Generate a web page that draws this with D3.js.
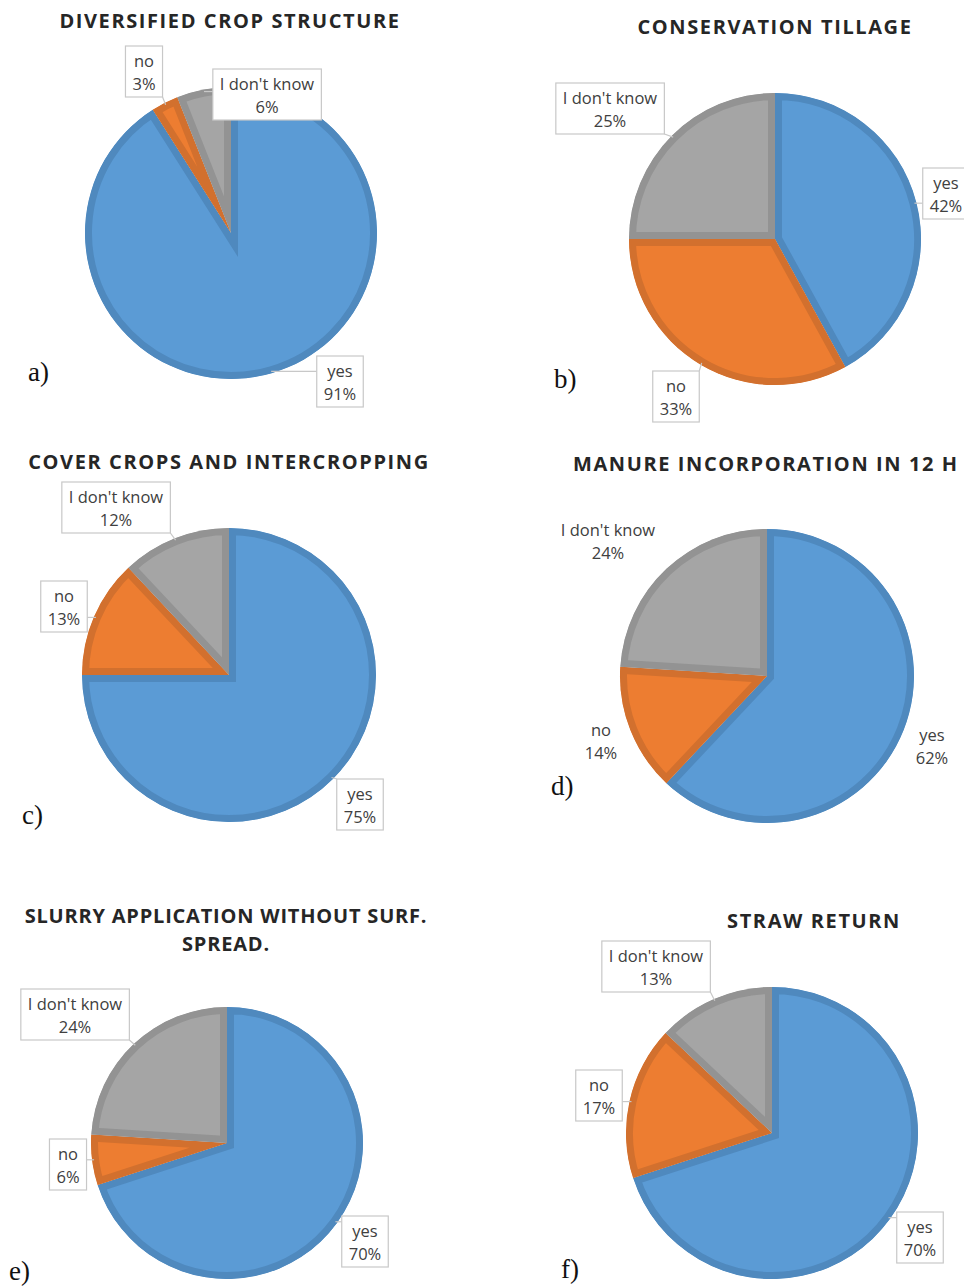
<!DOCTYPE html>
<html>
<head>
<meta charset="utf-8">
<script src="https://cdn.jsdelivr.net/npm/d3@7"></script>
<style>
  body { margin: 0; background: #fff; }
  svg { display: block; }
</style>
</head>
<body>
<div id="chart"></div>
<script>
// data
const categories = ["yes", "no", "I don't know"];
const titles = [
  ["DIVERSIFIED CROP STRUCTURE"],
  ["CONSERVATION TILLAGE"],
  ["COVER CROPS AND INTERCROPPING"],
  ["MANURE INCORPORATION IN 12 H"],
  ["SLURRY APPLICATION WITHOUT SURF.", "SPREAD."],
  ["STRAW RETURN"]
];
const panelLetters = ["a)", "b)", "c)", "d)", "e)", "f)"];
const yesValues = [91, 42, 75, 62, 70, 70];
const noValues  = [3, 33, 13, 14, 6, 17];
const idkValues = [6, 25, 12, 24, 24, 13];

const fills   = ["#5b9bd5", "#ed7d31", "#a5a5a5"];
const borders = ["#4f89be", "#d2702e", "#939393"];

// layout of each panel (pie centre, radius, title, letter, label boxes)
const layout = [
  { cx: 231, cy: 233, r: 146, tx: 230, ty: 22, ls: 1.6, lx: 28, ly: 381, boxed: true,
    labels: [[340, 381], [144, 71], [267, 94]] },
  { cx: 775, cy: 239, r: 146, tx: 775, ty: 28, ls: 1.6, lx: 554, ly: 388, boxed: true,
    labels: [[946, 193], [676, 396], [610, 108]] },
  { cx: 229, cy: 675, r: 147, tx: 229, ty: 463, ls: 1.6, lx: 22, ly: 824, boxed: true,
    labels: [[360, 804], [64, 606], [116, 507]] },
  { cx: 767, cy: 676, r: 147, tx: 573, ty: 465, ls: 1.6, anchorStart: true, lx: 551, ly: 795, boxed: false,
    labels: [[932, 745], [601, 740], [608, 540]] },
  { cx: 227, cy: 1143, r: 136, tx: 226, ty: 917, ls: 0.8, lx: 9, ly: 1280, boxed: true,
    labels: [[365, 1241], [68, 1164], [75, 1014]] },
  { cx: 772, cy: 1133, r: 146, tx: 814, ty: 922, ls: 1.6, lx: 561, ly: 1278, boxed: true,
    labels: [[920, 1237], [599, 1095], [656, 966]] }
];

const W = 964, H = 1286;
const svg = d3.select("#chart").append("svg")
  .attr("width", W)
  .attr("height", H);

const defs = svg.append("defs");

const pie = d3.pie().sort(null).value(d => d.value);

layout.forEach((p, i) => {
  const data = categories.map((c, k) => ({
    cat: c, k: k,
    value: [yesValues, noValues, idkValues][k][i]
  }));
  const arcs = pie(data);
  const arc = d3.arc().innerRadius(0).outerRadius(p.r);

  const g = svg.append("g").attr("transform", `translate(${p.cx},${p.cy})`);

  // slices with an inner border (clip the wide stroke to the slice itself)
  arcs.forEach(a => {
    const id = `clip-${i}-${a.data.k}`;
    defs.append("clipPath").attr("id", id)
      .append("path")
      .attr("d", arc(a));
    g.append("path")
      .attr("clip-path", `url(#${id})`)
      .attr("d", arc(a))
      .attr("fill", fills[a.data.k])
      .attr("stroke", borders[a.data.k])
      .attr("stroke-width", 14)
      .attr("stroke-linejoin", "miter");
  });

  // title
  const title = svg.append("text")
    .attr("x", p.tx)
    .attr("y", p.ty)
    .attr("text-anchor", p.anchorStart ? "start" : "middle")
    .attr("font-family", "'Open Sans', sans-serif")
    .attr("font-weight", 700)
    .attr("font-size", 20)
    .attr("letter-spacing", p.ls)
    .attr("fill", "#262626");
  titles[i].forEach((t, j) => {
    title.append("tspan").attr("x", p.tx).attr("dy", j === 0 ? 6 : 28).text(t);
  });

  // panel letter
  svg.append("text")
    .attr("x", p.lx)
    .attr("y", p.ly)
    .attr("font-family", "'Liberation Serif', serif")
    .attr("font-size", 27)
    .attr("fill", "#111")
    .text(panelLetters[i]);

  // data labels with callout boxes and leader lines
  arcs.forEach(a => {
    const [bx, by] = p.labels[a.data.k];
    const lg = svg.append("g");
    const mid = (a.startAngle + a.endAngle) / 2;
    const ex = p.cx + Math.sin(mid) * (p.r - 2);
    const ey = p.cy - Math.cos(mid) * (p.r - 2);

    const txt = lg.append("text")
      .attr("text-anchor", "middle")
      .attr("font-family", "'Open Sans', sans-serif")
      .attr("font-size", 16.5)
      .attr("fill", "#404040");
    txt.append("tspan").attr("x", bx).attr("y", by - 4).text(a.data.cat);
    txt.append("tspan").attr("x", bx).attr("y", by + 19).text(a.data.value + "%");

    if (p.boxed) {
      const bb = txt.node().getBBox();
      const x0 = bb.x - 7, x1 = bb.x + bb.width + 7;
      const y0 = by - 25, y1 = by + 26;
      // leader from nearest box point to slice edge
      const nx = Math.max(x0, Math.min(ex, x1));
      const ny = Math.max(y0, Math.min(ey, y1));
      const d = Math.hypot(ex - nx, ey - ny);
      if (d > 3) {
        lg.insert("line", "text")
          .attr("x1", nx).attr("y1", ny)
          .attr("x2", ex).attr("y2", ey)
          .attr("stroke", "#c8c8c8")
          .attr("stroke-width", 1.2);
      }
      lg.insert("rect", "text")
        .attr("x", x0).attr("y", y0)
        .attr("width", x1 - x0).attr("height", y1 - y0)
        .attr("fill", "#fff")
        .attr("stroke", "#c8c8c8")
        .attr("stroke-width", 1.2);
    }
  });
});
</script>
</body>
</html>
